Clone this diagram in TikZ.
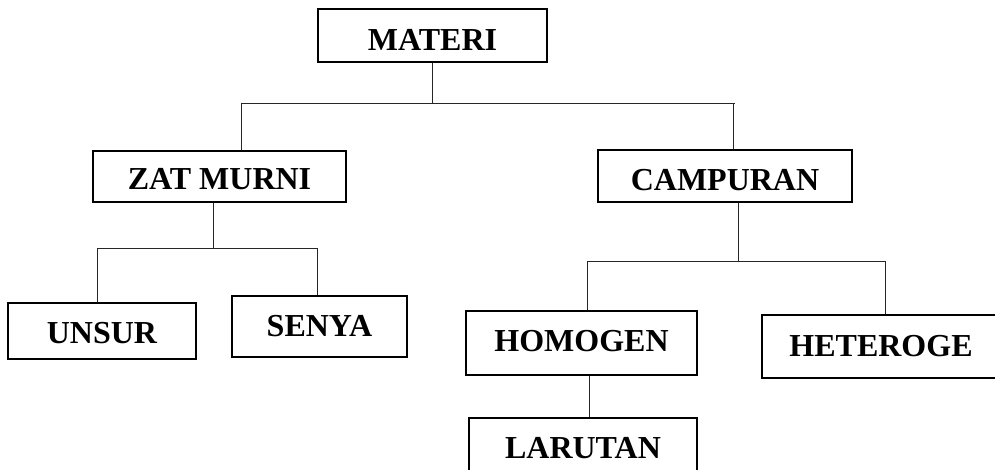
\documentclass[tikz,border=0pt]{standalone}
\usepackage{fontspec}
\setmainfont{Liberation Serif}
\usetikzlibrary{positioning}

\begin{document}
\begin{tikzpicture}[x=1pt,y=-1pt,
  box/.style={draw=black, line width=2.2pt, inner sep=0pt,
    font=\fontsize{32}{38}\selectfont\bfseries},
  link/.style={line width=0.9pt, draw=black!85}]
\clip (0,0) rectangle (995,470);

\node[box, minimum width=229pt, minimum height=53pt, text height=30pt] (materi) at (432.5,35.5) {MATERI};
\node[box, minimum width=253pt, minimum height=51pt, text height=27pt] (zat) at (219.5,176.5) {ZAT MURNI};
\node[box, minimum width=254pt, minimum height=52pt, text height=29pt] (campuran) at (725,176) {CAMPURAN};

\node[box, minimum width=188pt, minimum height=56pt, text height=26pt] (unsur) at (102,331) {UNSUR};
\node[box, minimum width=175pt, minimum height=61pt] (senya) at (319.5,326.5) {SENYA};
\node[box, minimum width=231pt, minimum height=64pt, text height=17pt] (homogen) at (581.5,343) {HOMOGEN};
\node[box, minimum width=238pt, minimum height=63pt] (heteroge) at (881,346.5) {HETEROGE};
\node[box, minimum width=228pt, minimum height=61pt] (larutan) at (583,448.5) {LARUTAN};

% materi
\coordinate (busa-l) at (241,103);
\coordinate (busa-r) at (735,103);
\coordinate (dropa) at (733,103);
\draw[link] (materi.south) -- (materi.south |- busa-l);
\draw[link] (busa-l) -- (busa-r);
\draw[link] (busa-l) -- (busa-l |- zat.north);
\draw[link] (dropa) -- (dropa |- campuran.north);

% zat murni
\coordinate (stemb) at (213,248);
\coordinate (busb-l) at (97,248);
\coordinate (busb-r) at (317,248);
\draw[link] (stemb |- zat.south) -- (stemb);
\draw[link] (busb-l) -- (busb-r);
\draw[link] (busb-l) -- (busb-l |- unsur.north);
\draw[link] (busb-r) -- (busb-r |- senya.north);

% campuran
\coordinate (stemc) at (738,261);
\coordinate (busc-l) at (587,261);
\coordinate (busc-r) at (885,261);
\draw[link] (stemc |- campuran.south) -- (stemc);
\draw[link] (busc-l) -- (busc-r);
\draw[link] (busc-l) -- (busc-l |- homogen.north);
\draw[link] (busc-r) -- (busc-r |- heteroge.north);

% homogen
\coordinate (stemd) at (589,400);
\draw[link] (stemd |- homogen.south) -- (stemd |- larutan.north);
\end{tikzpicture}
\end{document}
